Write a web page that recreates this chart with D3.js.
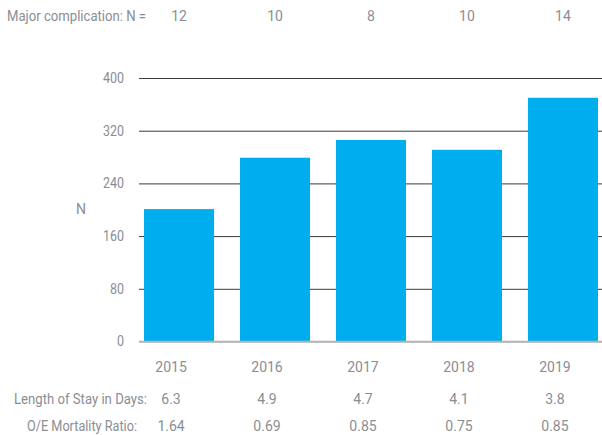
<!DOCTYPE html>
<html>
<head>
<meta charset="utf-8">
<script src="https://cdn.jsdelivr.net/npm/d3@7"></script>
<style>
  html, body { margin: 0; padding: 0; background: #fff; }
  svg { display: block; }
  text { font-family: "Roboto", sans-serif; font-weight: 400; fill: #8a8e93; }
</style>
</head>
<body>
<svg id="chart" width="602" height="435"></svg>
<script>
// Annual case volume with complications, length of stay and O/E mortality
const years = ["2015", "2016", "2017", "2018", "2019"];
const caseCounts = [201, 279, 306, 291, 370];
const majorComplications = [12, 10, 8, 10, 14];
const lengthOfStay = ["6.3", "4.9", "4.7", "4.1", "3.8"];
const oeMortality = ["1.64", "0.69", "0.85", "0.75", "0.85"];
const yTicks = [0, 80, 160, 240, 320, 400];

const svg = d3.select("#chart");
const fontSize = 14;
const fontFamily = "'Roboto', sans-serif";

const x = d3.scaleBand().domain(years).range([144, 598]).paddingInner(0.27).paddingOuter(0);
const y = d3.scaleLinear().domain([0, 400]).range([341.5, 78]);
const center = d => x(d) + x.bandwidth() / 2;

// Gridlines + y tick labels
const gridLeft = 139, gridRight = 602;
const yAxis = svg.append("g")
  .attr("transform", `translate(${gridLeft},0)`)
  .call(d3.axisLeft(y).tickValues(yTicks).tickSize(-(gridRight - gridLeft)).tickPadding(15).tickFormat(d3.format("d")));
yAxis.select(".domain").remove();
yAxis.selectAll(".tick line")
  .attr("stroke", d => d === 0 ? "#b4b4b4" : "#3a3a3a")
  .attr("stroke-width", d => d === 0 ? 1.5 : 1);
yAxis.selectAll(".tick text")
  .style("font-family", fontFamily)
  .style("font-weight", 400)
  .style("font-size", fontSize + "px")
  .attr("textLength", d => 7 * String(d).length).attr("lengthAdjust", "spacingAndGlyphs")
  .attr("fill", "#8a8e93");

// Bars
svg.append("g").selectAll("rect")
  .data(years)
  .join("rect")
  .attr("x", d => x(d))
  .attr("width", x.bandwidth())
  .attr("y", (d, i) => y(caseCounts[i]))
  .attr("height", (d, i) => y(0) - y(caseCounts[i]))
  .attr("fill", "#00aeef");

// Baseline drawn over the bar bottoms
svg.append("line")
  .attr("x1", gridLeft).attr("x2", gridRight)
  .attr("y1", y(0)).attr("y2", y(0))
  .attr("stroke", "#b4b4b4").attr("stroke-width", 1.5);

// Y axis title
svg.append("text")
  .attr("x", 81).attr("y", 214)
  .attr("text-anchor", "middle")
  .style("font-size", fontSize + "px")
  .text("N");

// Top row: major complications
svg.append("text")
  .attr("x", 7).attr("y", 21)
  .attr("textLength", 139).attr("lengthAdjust", "spacingAndGlyphs")
  .style("font-size", fontSize + "px")
  .text("Major complication: N =");
svg.append("g").selectAll("text")
  .data(years)
  .join("text")
  .attr("x", d => center(d))
  .attr("y", 21)
  .attr("text-anchor", "middle")
  .style("font-size", fontSize + "px")
  .text((d, i) => majorComplications[i]);

// Table rows under the bars
const colOffset = -8;
svg.append("g").selectAll("text")
  .data(years)
  .join("text")
  .attr("x", d => center(d) + colOffset)
  .attr("y", 372)
  .attr("text-anchor", "middle")
  .style("font-size", fontSize + "px")
  .text(d => d);

const rows = [
  { label: "Length of Stay in Days:", values: lengthOfStay, y: 404, x0: 14, w: 133 },
  { label: "O/E Mortality Ratio:", values: oeMortality, y: 431, x0: 27, w: 110 }
];
rows.forEach(r => {
  svg.append("text")
    .attr("x", r.x0).attr("y", r.y)
    .attr("textLength", r.w).attr("lengthAdjust", "spacingAndGlyphs")
    .style("font-size", fontSize + "px")
    .text(r.label);
  svg.append("g").selectAll("text")
    .data(years)
    .join("text")
    .attr("x", d => center(d) + colOffset)
    .attr("y", r.y)
    .attr("text-anchor", "middle")
    .style("font-size", fontSize + "px")
    .text((d, i) => r.values[i]);
});
</script>
</body>
</html>
